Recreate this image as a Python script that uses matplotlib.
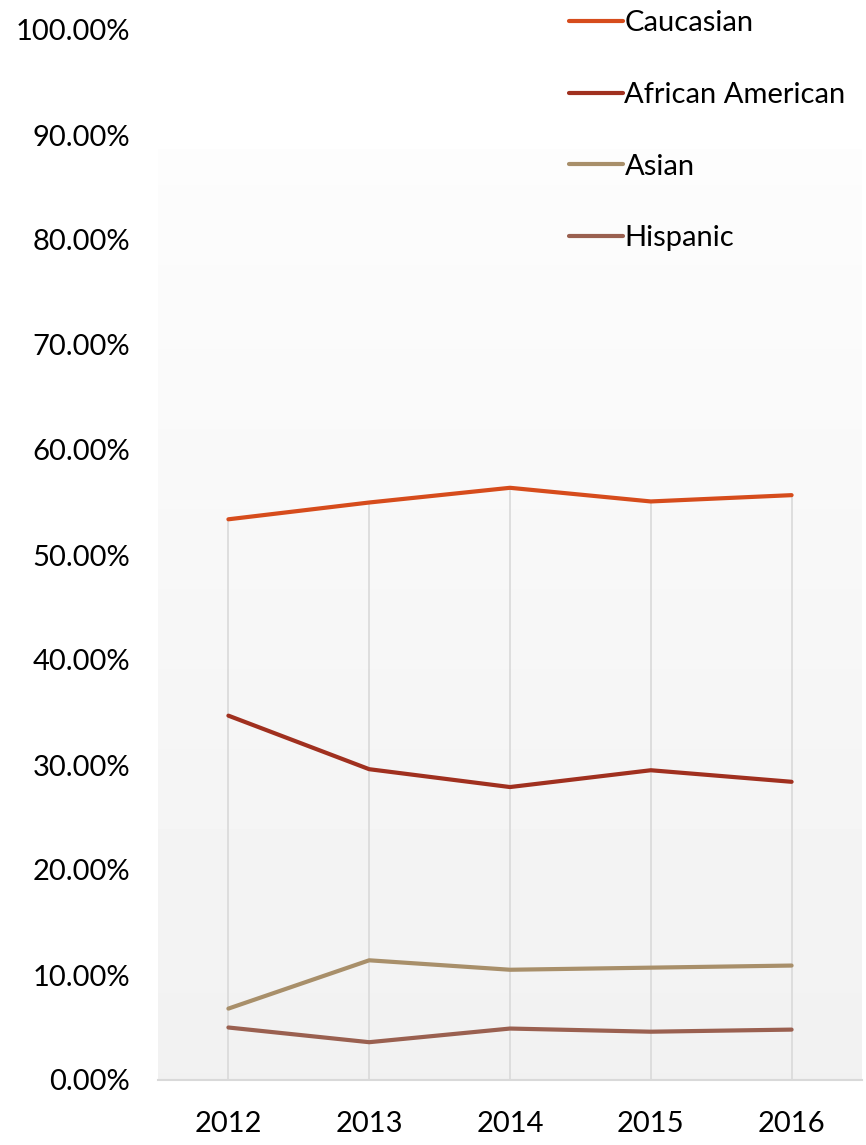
import matplotlib
matplotlib.use("Agg")
import matplotlib.pyplot as plt
import numpy as np
from matplotlib.ticker import FuncFormatter

plt.rcParams["font.family"] = ["Lato", "DejaVu Sans"]

years = ["2012", "2013", "2014", "2015", "2016"]
caucasian = [0.534, 0.550, 0.564, 0.551, 0.557]
african_american = [0.347, 0.296, 0.279, 0.295, 0.284]
asian = [0.068, 0.114, 0.105, 0.107, 0.109]
hispanic = [0.050, 0.036, 0.049, 0.046, 0.048]

series = [
    ("Caucasian", caucasian, "#d64c1c"),
    ("African American", african_american, "#a0301f"),
    ("Asian", asian, "#a88f6a"),
    ("Hispanic", hispanic, "#9a6050"),
]

W, H = 866, 1145
fig = plt.figure(figsize=(W / 100, H / 100), dpi=100)
ax = fig.add_axes([158 / W, 65 / H, (862 - 158) / W, (1115 - 65) / H])
ax.patch.set_visible(False)

x = np.arange(len(years))
ax.set_xlim(-0.5, len(years) - 0.5)
ax.set_ylim(0, 1)

# plot area fill: near white at top fading to light grey at the bottom
grad = np.linspace(0.99, 0.945, 256).reshape(-1, 1)
ax.imshow(grad, cmap="gray", vmin=0, vmax=1, aspect="auto",
          extent=[-0.5, len(years) - 0.5, 0, 0.886], origin="upper", zorder=0)

# drop lines from the highest series down to the axis
tops = np.max([s[1] for s in series], axis=0)
ax.vlines(x, 0, tops, color="#d9d9d9", lw=1.2, zorder=1)

for name, vals, color in series:
    ax.plot(x, vals, color=color, lw=3.0, label=name, zorder=3,
            solid_capstyle="round", solid_joinstyle="round")

ax.set_xticks(x)
ax.set_xticklabels(years)
ax.set_yticks(np.arange(0, 1.01, 0.1))
ax.yaxis.set_major_formatter(FuncFormatter(lambda v, p: f"{v * 100:.2f}%"))
ax.tick_params(axis="both", length=0, labelsize=21, colors="black")
ax.tick_params(axis="y", pad=20)
ax.tick_params(axis="x", pad=22.5)

for side in ["left", "top", "right"]:
    ax.spines[side].set_visible(False)
ax.spines["bottom"].set_color("#d9d9d9")
ax.spines["bottom"].set_linewidth(1.5)
ax.spines["bottom"].set_zorder(2)

leg = ax.legend(loc="upper left", bbox_to_anchor=(569 / W, 1 - 10 / H),
                bbox_transform=fig.transFigure, frameon=False,
                fontsize=21, handlelength=1.85, handletextpad=0.05,
                labelspacing=1.57, borderpad=0, borderaxespad=0)

fig.savefig("out.png", dpi=100)
